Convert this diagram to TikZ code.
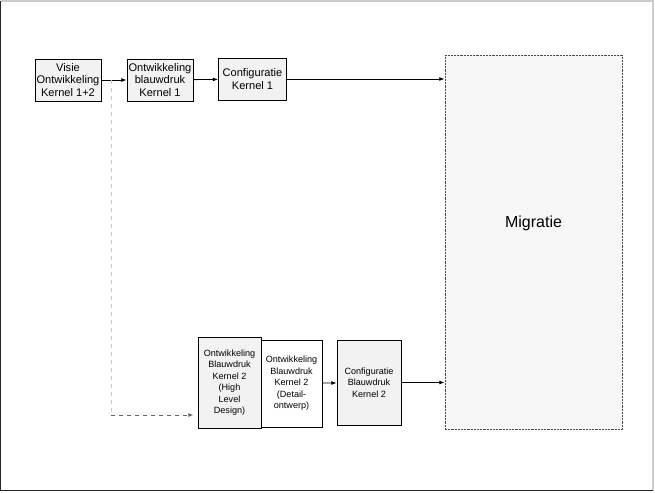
\documentclass[tikz,border=0pt]{standalone}
\usepackage{fontspec}
\setmainfont{Liberation Sans}
\usetikzlibrary{arrows.meta, positioning, calc}

\begin{document}
\begin{tikzpicture}[
    x=0.75pt, y=-0.75pt,
    >={Latex[length=4pt, width=3pt]},
    box/.style={draw, line width=0.6pt, fill=black!5, align=center, inner sep=1pt,
                minimum width=49.5pt, minimum height=31.5pt,
                font=\fontsize{8.3}{9.2}\selectfont},
    smallbox/.style={box, minimum width=47pt, minimum height=66pt,
                font=\fontsize{6.8}{8.6}\selectfont},
    migbox/.style={draw=black!70, fill=black!3, line width=0.6pt,
                dash pattern=on 1.6pt off 0.8pt,
                minimum width=132.75pt, minimum height=280.5pt},
    arr/.style={->, line width=0.6pt},
    dasharr/.style={dashed, line width=0.6pt},
]
\useasboundingbox (0,0) rectangle (655,492);
% ------------------------------------------------ page frame
\draw[black!20, line width=0.8pt] (0.5,1) -- (653,1) -- (653,490.5);
\draw[black!85, line width=0.8pt] (0.5,1) -- (0.5,490.5) -- (653,490.5);
% ------------------------------------------------ kernel 1 row
\node[box] (visie) at (68,80) {Visie\\Ontwikkeling\\Kernel 1+2};
\node[box] (blauw1) at (160,80) {Ontwikkeling\\blauwdruk\\Kernel 1};
\node[box, minimum width=51pt] (config1) at (252.5,79) {Configuratie\\Kernel 1};
\node[migbox] (migratie) at (533.5,242) {};
\node[font=\fontsize{12}{14}\selectfont] at (533.5,223) {Migratie};
\draw[arr] (visie) -- (blauw1);
\draw[arr] (blauw1) -- (config1);
\draw[arr, line width=0.7pt] (config1.east) -- (migratie.west |- config1.east);
% ------------------------------------------------ kernel 2 row
\node[smallbox, minimum width=47.25pt, minimum height=68.25pt] (hld) at (229.5,382.5)
    {Ontwikkeling\\Blauwdruk\\Kernel 2\\(High\\Level\\Design)};
\node[smallbox, fill=white, minimum width=45.75pt, minimum height=65.25pt] (detail) at (291.5,383.5)
    {Ontwikkeling\\Blauwdruk\\Kernel 2\\(Detail-\\ontwerp)};
\node[smallbox, minimum width=48pt, minimum height=63.75pt] (config2) at (369,382.5)
    {Configuratie\\Blauwdruk\\Kernel 2};
\draw[arr] (detail) -- (config2);
\draw[arr, line width=0.7pt] (config2.east) -- (migratie.west |- config2.east);
% ------------------------------------------------ from kernel 1+2 down to kernel 2
\coordinate (split) at (111,80);
\coordinate (bend) at (111,415);
\draw[dasharr, black!20] (split) -- (bend);
\draw[dasharr, black!60, ->] (bend) -- ([xshift=-3pt]bend -| hld.west);
\end{tikzpicture}
\end{document}
